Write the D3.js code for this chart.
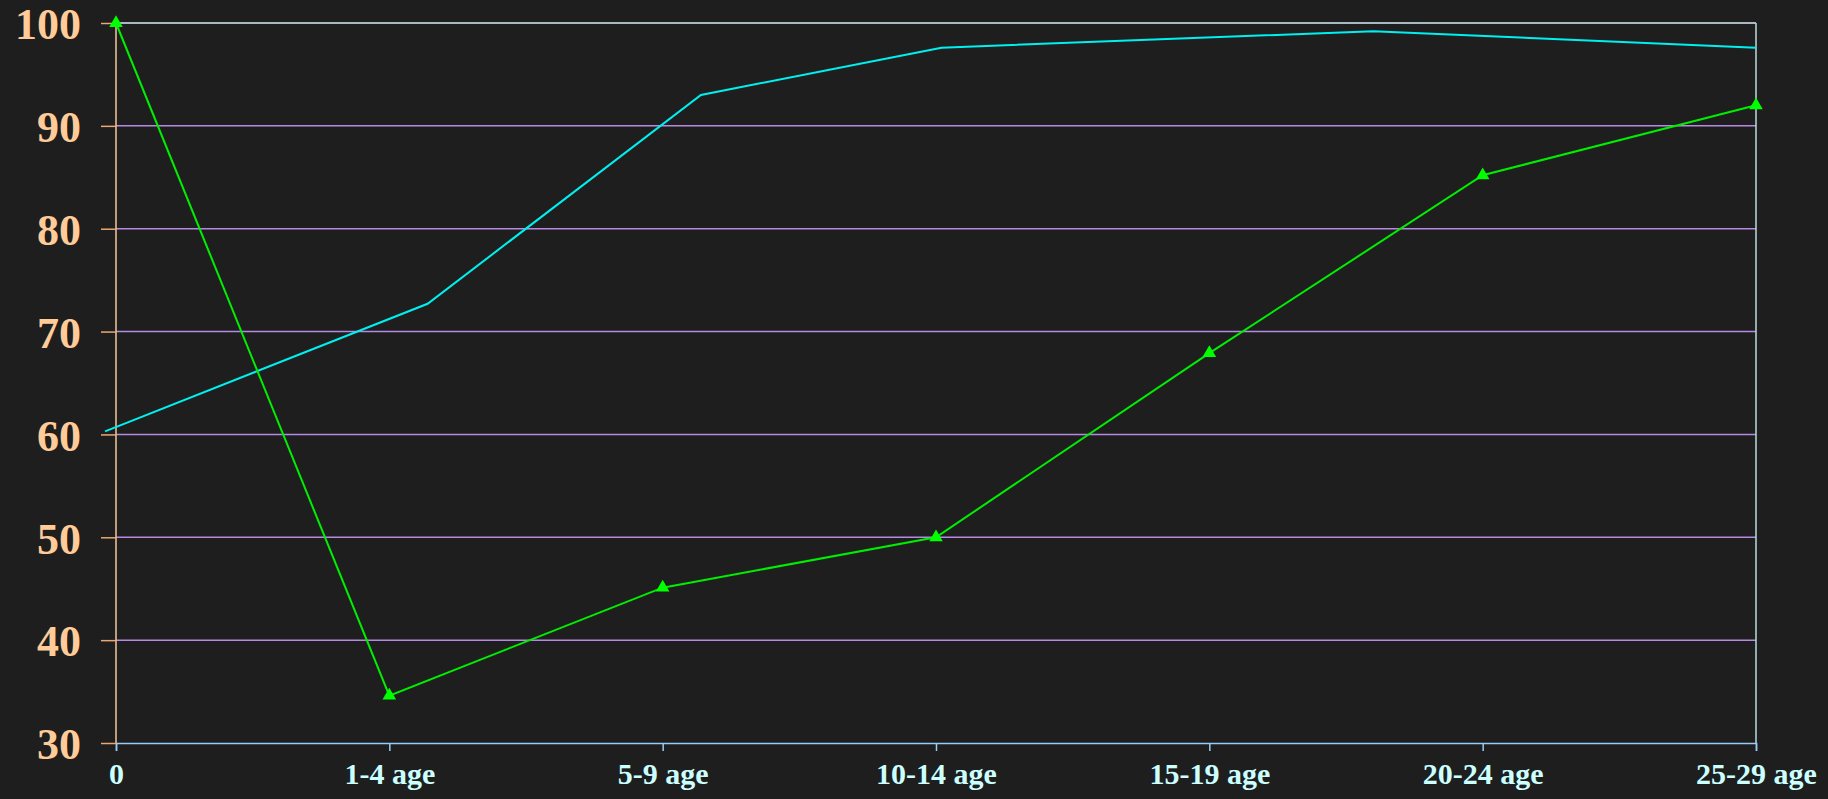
<!DOCTYPE html>
<html>
<head>
<meta charset="utf-8">
<script src="https://cdn.jsdelivr.net/npm/d3@7"></script>
<style>
  html, body { margin: 0; padding: 0; background: #1e1e1e; }
  svg { display: block; }
</style>
</head>
<body>
<svg id="chart"></svg>
<script>
var viewWidth = 1828;
var viewHeight = 799;

// categories on the x axis
var categories = ["0", "1-4 age", "5-9 age", "10-14 age", "15-19 age", "20-24 age", "25-29 age"];
// green series, one value per category
var greenValues = [100, 34.6, 45.1, 50, 67.9, 85.2, 92.0];
// cyan series, its points sit between categories (position as category index)
var cyanPos = [-0.04, 1.14, 2.14, 3.02, 4.6, 6.0];
var cyanValues = [60.3, 72.7, 93.0, 97.6, 99.2, 97.6];
var yTicks = [30, 40, 50, 60, 70, 80, 90, 100];

var margin = {top: 23, right: 72, bottom: 56, left: 116};
var width = viewWidth - margin.left - margin.right;
var height = viewHeight - margin.top - margin.bottom;

var svg = d3.select("#chart")
    .attr("width", viewWidth)
    .attr("height", viewHeight);

svg.append("rect")
    .attr("width", viewWidth)
    .attr("height", viewHeight)
    .attr("fill", "#1e1e1e");

var g = svg.append("g")
    .attr("transform", "translate(" + margin.left + "," + margin.top + ")");

var x = d3.scalePoint()
    .domain(categories)
    .range([0, width]);
var xIdx = d3.scaleLinear()
    .domain([0, categories.length - 1])
    .range([0, width]);
var y = d3.scaleLinear()
    .domain([30, 100])
    .range([height, 0]);

// gridlines
g.selectAll(".grid")
    .data(yTicks.filter(function(d) { return d > 30 && d < 100; }))
  .enter().append("line")
    .attr("class", "grid")
    .attr("x1", 0)
    .attr("x2", width)
    .attr("y1", function(d) { return y(d); })
    .attr("y2", function(d) { return y(d); })
    .attr("stroke", "#b58ae0")
    .attr("stroke-width", 1.5);

// top and right border
g.append("line")
    .attr("x1", 0).attr("x2", width)
    .attr("y1", y(100)).attr("y2", y(100))
    .attr("stroke", "#d6eef8")
    .attr("stroke-width", 1.5);
g.append("line")
    .attr("x1", width).attr("x2", width)
    .attr("y1", 0).attr("y2", height)
    .attr("stroke", "#b8dcdc")
    .attr("stroke-width", 1.5);

// x axis
var xAxis = d3.axisBottom(x).tickSize(8).tickPadding(12);
var gx = g.append("g")
    .attr("transform", "translate(0," + height + ")")
    .call(xAxis);
gx.select(".domain").attr("stroke", "#99ccf5").attr("stroke-width", 1.5);
gx.selectAll(".tick line").attr("stroke", "#99ccf5").attr("stroke-width", 1.5);
gx.selectAll(".tick text")
    .attr("fill", "#ccffff")
    .style("font-family", "'Liberation Serif', 'Times New Roman', serif")
    .style("font-weight", "bold")
    .style("font-size", "30px");

// y axis
var yAxis = d3.axisLeft(y).tickValues(yTicks).tickSize(15).tickPadding(20);
var gy = g.append("g").call(yAxis);
gy.select(".domain").attr("stroke", "#f5c99a").attr("stroke-width", 1.5)
    .attr("d", "M0," + height + "V0");
gy.selectAll(".tick line").attr("stroke", "#e8a870").attr("stroke-width", 1.5);
gy.selectAll(".tick text")
    .attr("fill", "#ffcc99")
    .attr("dy", "0.36em")
    .style("font-family", "'Liberation Serif', 'Times New Roman', serif")
    .style("font-weight", "bold")
    .style("font-size", "44px");

// cyan line
var cyanData = cyanPos.map(function(p, i) { return {p: p, v: cyanValues[i]}; });
g.append("path")
    .datum(cyanData)
    .attr("fill", "none")
    .attr("stroke", "#00f0f0")
    .attr("stroke-width", 2)
    .attr("d", d3.line()
        .x(function(d) { return xIdx(d.p); })
        .y(function(d) { return y(d.v); }));

// green line with triangles
var greenData = categories.map(function(c, i) { return {c: c, v: greenValues[i]}; });
g.append("path")
    .datum(greenData)
    .attr("fill", "none")
    .attr("stroke", "#00ee00")
    .attr("stroke-width", 2)
    .attr("d", d3.line()
        .x(function(d) { return x(d.c); })
        .y(function(d) { return y(d.v); }));

g.selectAll(".tri")
    .data(greenData)
  .enter().append("path")
    .attr("class", "tri")
    .attr("transform", function(d) { return "translate(" + x(d.c) + "," + y(d.v) + ")"; })
    .attr("d", d3.symbol().type(d3.symbolTriangle).size(80))
    .attr("fill", "#00ff00");
</script>
</body>
</html>
